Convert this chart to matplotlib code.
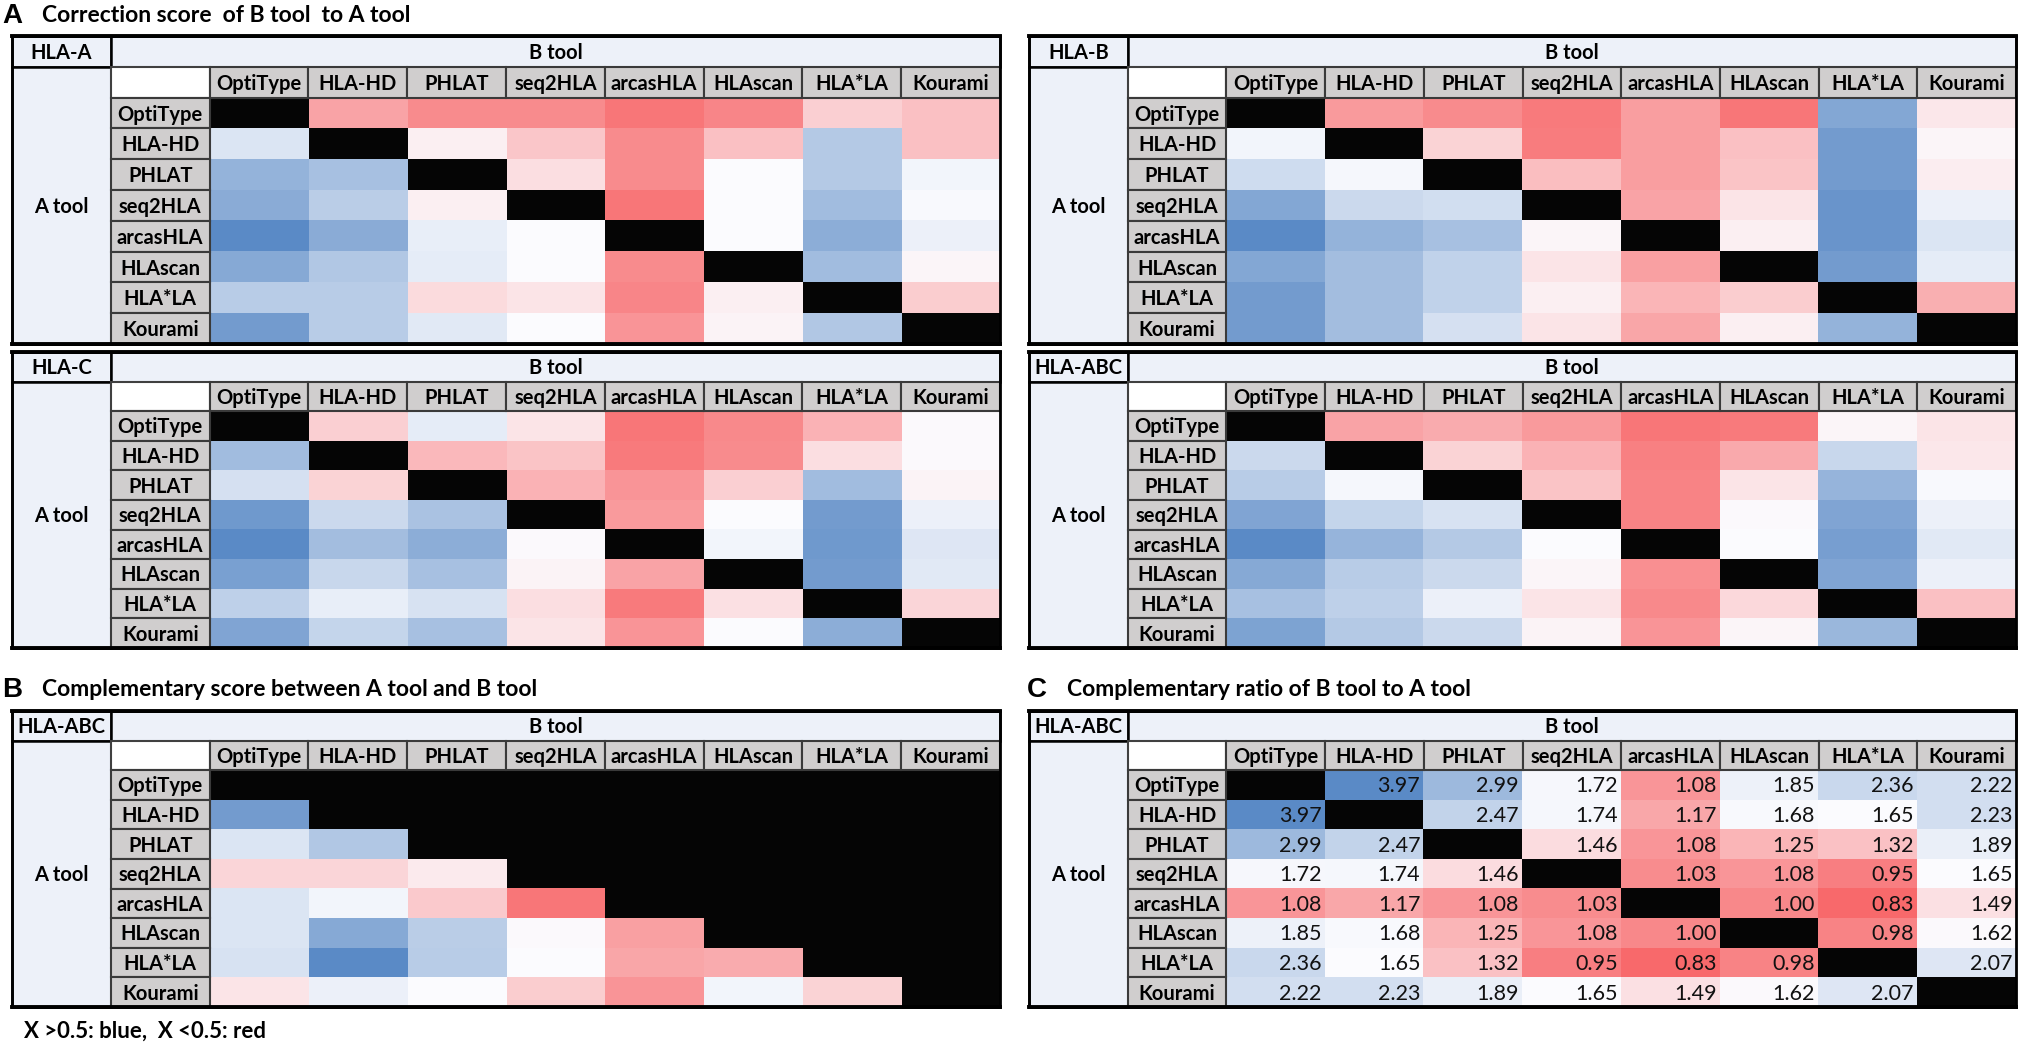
import numpy as np
import matplotlib.pyplot as plt
from matplotlib.colors import LinearSegmentedColormap, Normalize, TwoSlopeNorm
from matplotlib.patches import Rectangle

W, H = 2018, 1043

tools = ['OptiType', 'HLA-HD', 'PHLAT', 'seq2HLA', 'arcasHLA', 'HLAscan', 'HLA*LA', 'Kourami']

# correction score X (rows: A tool, columns: B tool)
# X > 0.5 blue, X < 0.5 red, None = same tool
hla_a = [
    [None, 0.20, 0.12, 0.12, 0.05, 0.10, 0.35, 0.30],
    [0.60, None, 0.46, 0.32, 0.12, 0.30, 0.72, 0.30],
    [0.82, 0.76, None, 0.40, 0.12, 0.50, 0.72, 0.53],
    [0.85, 0.70, 0.46, None, 0.05, 0.50, 0.78, 0.51],
    [1.00, 0.85, 0.56, 0.50, None, 0.50, 0.84, 0.55],
    [0.86, 0.73, 0.57, 0.50, 0.12, None, 0.78, 0.48],
    [0.71, 0.71, 0.39, 0.42, 0.10, 0.46, None, 0.34],
    [0.92, 0.71, 0.58, 0.50, 0.15, 0.47, 0.73, None],
]
hla_b = [
    [None, 0.17, 0.12, 0.06, 0.18, 0.05, 0.87, 0.43],
    [0.53, None, 0.36, 0.07, 0.18, 0.30, 0.92, 0.48],
    [0.64, 0.52, None, 0.29, 0.18, 0.31, 0.92, 0.45],
    [0.87, 0.65, 0.63, None, 0.20, 0.42, 0.95, 0.55],
    [1.00, 0.82, 0.76, 0.48, None, 0.46, 0.95, 0.60],
    [0.87, 0.77, 0.68, 0.42, 0.19, None, 0.92, 0.57],
    [0.92, 0.77, 0.68, 0.46, 0.26, 0.34, None, 0.24],
    [0.92, 0.77, 0.62, 0.42, 0.21, 0.46, 0.82, None],
]
hla_c = [
    [None, 0.35, 0.57, 0.42, 0.05, 0.11, 0.25, 0.49],
    [0.78, None, 0.27, 0.31, 0.06, 0.12, 0.40, 0.49],
    [0.62, 0.36, None, 0.25, 0.15, 0.35, 0.78, 0.47],
    [0.93, 0.65, 0.75, None, 0.17, 0.50, 0.92, 0.55],
    [1.00, 0.77, 0.84, 0.49, None, 0.53, 0.93, 0.59],
    [0.90, 0.66, 0.76, 0.47, 0.20, None, 0.92, 0.58],
    [0.69, 0.56, 0.61, 0.40, 0.06, 0.41, None, 0.37],
    [0.88, 0.67, 0.76, 0.42, 0.15, 0.50, 0.84, None],
]
hla_abc = [
    [None, 0.20, 0.23, 0.17, 0.05, 0.06, 0.48, 0.42],
    [0.65, None, 0.36, 0.25, 0.08, 0.22, 0.66, 0.43],
    [0.71, 0.52, None, 0.31, 0.09, 0.42, 0.81, 0.51],
    [0.88, 0.67, 0.61, None, 0.09, 0.49, 0.88, 0.55],
    [1.00, 0.81, 0.72, 0.50, None, 0.50, 0.91, 0.58],
    [0.86, 0.71, 0.65, 0.48, 0.13, None, 0.88, 0.55],
    [0.76, 0.69, 0.55, 0.42, 0.11, 0.38, None, 0.30],
    [0.89, 0.72, 0.65, 0.47, 0.15, 0.48, 0.80, None],
]
# complementary score between A tool and B tool (lower triangle only)
comp_score = [
    [None, None, None, None, None, None, None, None],
    [0.92, None, None, None, None, None, None, None],
    [0.60, 0.73, None, None, None, None, None, None],
    [0.37, 0.37, 0.44, None, None, None, None, None],
    [0.60, 0.53, 0.33, 0.05, None, None, None, None],
    [0.60, 0.86, 0.70, 0.49, 0.19, None, None, None],
    [0.61, 1.00, 0.71, 0.50, 0.21, 0.23, None, None],
    [0.42, 0.55, 0.50, 0.34, 0.15, 0.53, 0.36, None],
]
# complementary ratio of B tool to A tool
comp_ratio = [
    [None, 3.97, 2.99, 1.72, 1.08, 1.85, 2.36, 2.22],
    [3.97, None, 2.47, 1.74, 1.17, 1.68, 1.65, 2.23],
    [2.99, 2.47, None, 1.46, 1.08, 1.25, 1.32, 1.89],
    [1.72, 1.74, 1.46, None, 1.03, 1.08, 0.95, 1.65],
    [1.08, 1.17, 1.08, 1.03, None, 1.00, 0.83, 1.49],
    [1.85, 1.68, 1.25, 1.08, 1.00, None, 0.98, 1.62],
    [2.36, 1.65, 1.32, 0.95, 0.83, 0.98, None, 2.07],
    [2.22, 2.23, 1.89, 1.65, 1.49, 1.62, 2.07, None],
]

cmap = LinearSegmentedColormap.from_list('bwr_excel', ['#F8696B', '#FCFCFF', '#5A8AC6'])
cmap.set_bad('#050505')

HEAD = '#EDF1F9'
GRAY = '#D0CECE'
FONT = ['Lato', 'DejaVu Sans']
FS = 14.5

fig = plt.figure(figsize=(W / 100, H / 100), dpi=100)


def draw_table(box, corner, values, norm, numbers=False):
    l, t, r, b = box
    ax = fig.add_axes([l / W, 1 - b / H, (r - l) / W, (b - t) / H])
    ax.set_xlim(0, 10)
    ax.set_ylim(10, 0)
    ax.axis('off')
    m = np.array(values, dtype=float)
    ax.imshow(np.ma.masked_invalid(m), cmap=cmap, norm=norm, extent=(2, 10, 10, 2),
              aspect='auto', interpolation='nearest')

    def cell(x, y, w, h, fc, ec, lw):
        ax.add_patch(Rectangle((x, y), w, h, facecolor=fc, edgecolor=ec, lw=lw,
                               clip_on=False, zorder=3))

    cell(0, 0, 1, 1, HEAD, 'black', 1.8)
    cell(1, 0, 9, 1, HEAD, 'black', 1.8)
    cell(0, 1, 1, 9, HEAD, 'black', 1.8)
    cell(1, 1, 1, 1, 'white', '#404040', 1.5)
    for k, name in enumerate(tools):
        cell(2 + k, 1, 1, 1, GRAY, '#3a3a3a', 1.5)
        cell(1, 2 + k, 1, 1, GRAY, '#3a3a3a', 1.5)
        ax.text(2.5 + k, 1.55, name, ha='center', va='center', fontsize=FS,
                fontweight='bold', family=FONT, zorder=4)
        ax.text(1.5, 2.55 + k, name, ha='center', va='center', fontsize=FS,
                fontweight='bold', family=FONT, zorder=4)
    ax.text(0.5, 0.55, corner, ha='center', va='center', fontsize=FS,
            fontweight='bold', family=FONT, zorder=4)
    ax.text(5.5, 0.55, 'B tool', ha='center', va='center', fontsize=FS,
            fontweight='bold', family=FONT, zorder=4)
    ax.text(0.5, 5.55, 'A tool', ha='center', va='center', fontsize=FS,
            fontweight='bold', family=FONT, zorder=4)
    ax.add_patch(Rectangle((0, 0), 10, 10, fill=False, edgecolor='black', lw=2.0,
                           clip_on=False, zorder=5))
    ax.plot([0, 10], [0, 0], color='black', lw=2.8, clip_on=False, zorder=5)
    ax.plot([0, 10], [10, 10], color='black', lw=2.8, clip_on=False, zorder=5)
    if numbers:
        for i in range(8):
            for j in range(8):
                if not np.isnan(m[i, j]):
                    ax.text(3 + j - 0.035, 2.55 + i, f'{m[i, j]:.2f}', ha='right',
                            va='center', fontsize=15.5, family=FONT, color='#111111',
                            zorder=4)


score_norm = Normalize(0, 1)
ratio = np.array(comp_ratio, dtype=float)
off = ratio[~np.isnan(ratio)]
ratio_norm = TwoSlopeNorm(vmin=off.min(), vcenter=np.median(off), vmax=off.max())

draw_table((12, 36, 1000, 344), 'HLA-A', hla_a, score_norm)
draw_table((1029, 36, 2016, 344), 'HLA-B', hla_b, score_norm)
draw_table((12, 352, 1000, 648), 'HLA-C', hla_c, score_norm)
draw_table((1029, 352, 2016, 648), 'HLA-ABC', hla_abc, score_norm)
draw_table((12, 711, 1000, 1007), 'HLA-ABC', comp_score, score_norm)
draw_table((1029, 711, 2016, 1007), 'HLA-ABC', comp_ratio, ratio_norm, numbers=True)


def label(x, y, letter, title):
    fig.text(x / W, 1 - y / H, letter, ha='left', va='center', fontsize=20,
             fontweight='bold', family='Liberation Sans')
    fig.text((x + 40) / W, 1 - y / H, title, ha='left', va='center', fontsize=16.5,
             fontweight='bold', family=FONT)


label(2, 16, 'A', 'Correction score  of B tool  to A tool')
label(2, 690, 'B', 'Complementary score between A tool and B tool')
label(1027, 690, 'C', 'Complementary ratio of B tool to A tool')
fig.text(24 / W, 1 - 1031 / H, 'X >0.5: blue,  X <0.5: red', ha='left', va='center',
         fontsize=16, fontweight='bold', family=FONT)

fig.savefig('out.png', dpi=100)
